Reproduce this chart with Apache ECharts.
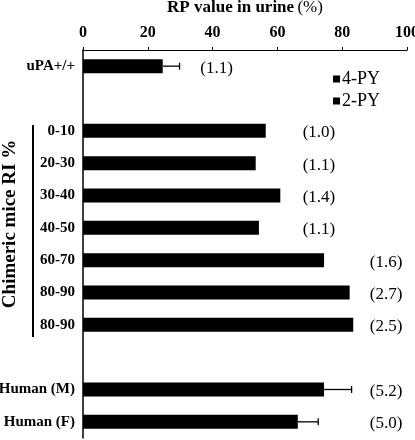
<!DOCTYPE html>
<html>
<head>
<meta charset="utf-8">
<script src="https://cdn.jsdelivr.net/npm/echarts@6/dist/echarts.min.js"></script>
<style>
html,body{margin:0;padding:0;background:#fff;}
#chart{width:415px;height:440px;}
</style>
</head>
<body>
<div id="chart"></div>
<script>
// ---- data ----
const categories = ['uPA+/+', '', '0-10', '20-30', '30-40', '40-50', '60-70', '80-90', '80-90', '', 'Human (M)', 'Human (F)'];
const values4PY = [24.6, null, 56.4, 53.3, 60.9, 54.3, 74.4, 82.3, 83.4, null, 74.4, 66.3];
const errors4PY = [5.2, null, 0, 0, 0, 0, 0, 0, 0, null, 8.5, 6.3];
const ratioLabels = ['(1.1)', '', '(1.0)', '(1.1)', '(1.4)', '(1.1)', '(1.6)', '(2.7)', '(2.5)', '', '(5.2)', '(5.0)'];
const xTicks = { min: 0, max: 100, step: 20 };
const legendNames = ['4-PY', '2-PY'];
const groupTitle = 'Chimeric mice RI %';
const axisTitleMain = 'RP value in urine';
const axisTitleUnit = '(%)';

// ---- chart ----
const FONT = 'Liberation Serif, Times New Roman, serif';
const chart = echarts.init(document.getElementById('chart'), null, { renderer: 'canvas' });

function labelColumn(i) { return i === 0 ? 36.2 : (i <= 5 ? 67.8 : 88.5); }

const customData = categories.map((c, i) => [values4PY[i] == null ? 0 : values4PY[i], i, errors4PY[i] == null ? 0 : errors4PY[i]]);

const option = {
  animation: false,
  backgroundColor: '#fff',
  grid: { left: 83, right: 8, top: 50, bottom: 2, containLabel: false, outerBoundsMode: 'none' },
  legend: {
    data: legendNames.map(n => ({ name: n, icon: 'rect' })),
    orient: 'vertical', left: 328, top: 65,
    itemWidth: 7, itemHeight: 7, itemGap: 4,
    textStyle: { fontFamily: FONT, fontSize: 18, color: '#000', padding: [0, 0, 0, -3] },
    selectedMode: false
  },
  xAxis: {
    type: 'value', position: 'top',
    min: xTicks.min, max: xTicks.max, interval: xTicks.step,
    name: '{b|' + axisTitleMain + '} {n|' + axisTitleUnit + '}',
    nameLocation: 'middle', nameGap: 34,
    nameTextStyle: {
      rich: {
        b: { fontFamily: FONT, fontWeight: 'bold', fontSize: 17, color: '#000' },
        n: { fontFamily: FONT, fontSize: 17, color: '#000' }
      }
    },
    axisLine: { show: true, lineStyle: { color: '#000', width: 1.2 } },
    axisTick: { show: true, inside: false, length: 3, lineStyle: { color: '#000' } },
    splitLine: { show: false },
    axisLabel: { fontFamily: FONT, fontWeight: 'bold', fontSize: 16, color: '#000', margin: 9 }
  },
  yAxis: {
    type: 'category', inverse: true, data: categories,
    axisLine: { show: true, lineStyle: { color: '#000', width: 1.5 } },
    axisTick: { show: false },
    axisLabel: { fontFamily: FONT, fontWeight: 'bold', fontSize: 15, color: '#000', margin: 8, interval: 0 }
  },
  series: [
    {
      name: legendNames[0], type: 'bar', data: values4PY, barWidth: 14, barGap: '-100%',
      itemStyle: { color: '#000' }
    },
    {
      name: legendNames[1], type: 'bar', data: categories.map(() => null), barWidth: 14,
      itemStyle: { color: '#000' }
    },
    {
      type: 'custom', name: 'err', data: customData, encode: { x: 0, y: 1 }, z: 5,
      renderItem: function (params, api) {
        const i = params.dataIndex;
        if (values4PY[i] == null) return null;
        const v = api.value(0), err = api.value(2);
        const children = [];
        if (err > 0) {
          const p0 = api.coord([v, i]);
          const p1 = api.coord([v + err, i]);
          children.push({ type: 'line', shape: { x1: p0[0], y1: p0[1], x2: p1[0], y2: p1[1] }, style: { stroke: '#000', lineWidth: 1.3 } });
          children.push({ type: 'line', shape: { x1: p1[0], y1: p1[1] - 3.5, x2: p1[0], y2: p1[1] + 3.5 }, style: { stroke: '#000', lineWidth: 1.3 } });
        }
        const pt = api.coord([labelColumn(i), i]);
        children.push({ type: 'text', x: pt[0], y: pt[1] + 2,
          style: { text: ratioLabels[i], font: '17px ' + FONT, fill: '#000', textAlign: 'left', textVerticalAlign: 'middle' } });
        return { type: 'group', children: children };
      }
    }
  ],
  graphic: [
    { type: 'text', x: 10, y: 224, rotation: Math.PI / 2,
      style: { text: groupTitle, font: 'bold 19px ' + FONT, fill: '#000', textAlign: 'center', textVerticalAlign: 'middle' } },
    { type: 'line', shape: { x1: 33, y1: 125, x2: 33, y2: 337 }, style: { stroke: '#000', lineWidth: 2 } }
  ]
};
chart.setOption(option);
</script>
</body>
</html>
